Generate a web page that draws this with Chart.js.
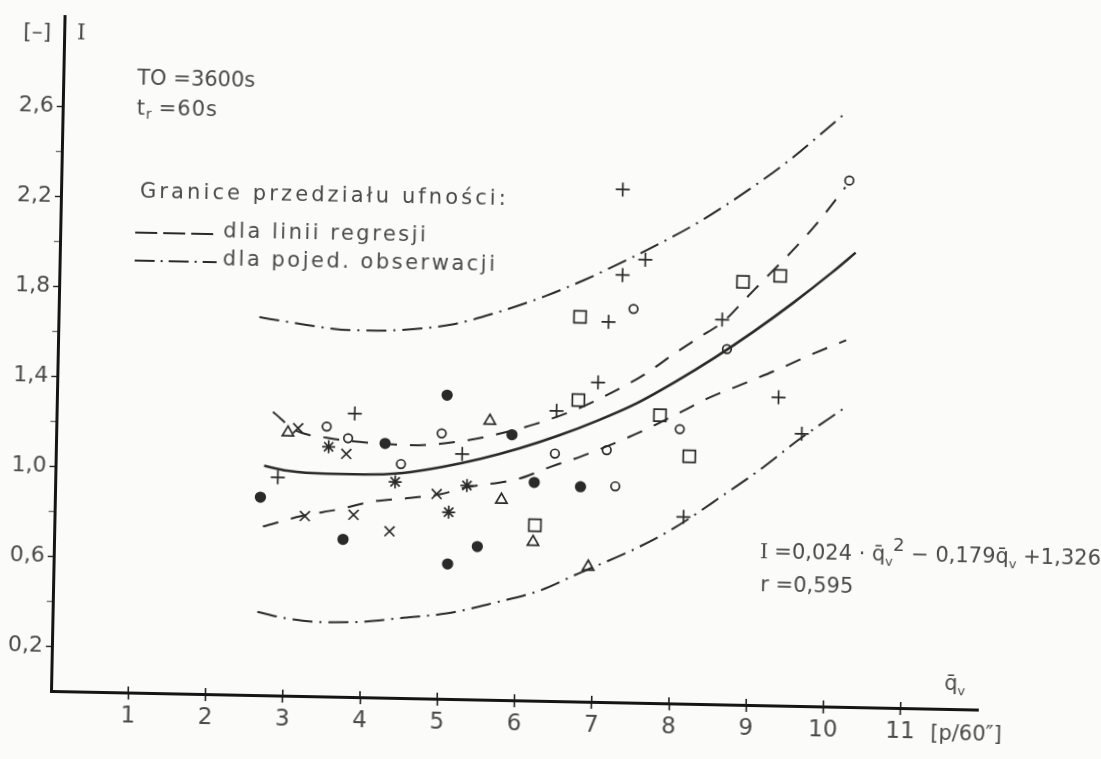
<!DOCTYPE html>
<html>
<head>
<meta charset="utf-8">
<title>I(q)</title>
<script src="https://cdn.jsdelivr.net/npm/chart.js@4.4.1/dist/chart.umd.min.js"></script>
<style>
  html, body { margin: 0; padding: 0; background: #fbfbf9; overflow: hidden; }
  /* the sheet sits slightly askew on the scanner */
  #sheet { width: 1101px; height: 759px; transform: rotate(1.15deg); transform-origin: 53px 691px; }
</style>
</head>
<body>
<div id="sheet"><canvas id="chart" width="1101" height="759"></canvas></div>
<script>
// regression line I = f(q)
const regQ = [2.7, 3.0, 3.5, 4.0, 4.5, 5.0, 5.5, 6.0, 6.5, 7.0, 7.5, 8.0, 8.5, 9.0, 9.5, 10.0, 10.3];
const regI = [1.02, 1.00, 0.99, 0.99, 1.00, 1.03, 1.07, 1.12, 1.18, 1.25, 1.33, 1.43, 1.54, 1.66, 1.79, 1.93, 2.02];

// confidence band of the regression line (dashed)
const bandUpQ = [2.8, 3.1, 3.5, 4.1, 4.6, 5.3, 5.7, 6.2, 6.8, 7.2, 7.6, 8.0, 8.3, 8.6, 8.9, 9.2, 9.5, 9.8, 10.15];
const bandUpI = [1.26, 1.18, 1.15, 1.13, 1.125, 1.15, 1.18, 1.23, 1.31, 1.38, 1.46, 1.56, 1.63, 1.70, 1.81, 1.92, 2.03, 2.15, 2.31];
const bandLoQ = [2.7, 3.2, 3.7, 4.1, 4.6, 5.0, 5.3, 6.0, 6.4, 6.8, 7.6, 8.1, 8.4, 8.9, 9.3, 9.7, 10.2];
const bandLoI = [0.75, 0.80, 0.835, 0.87, 0.89, 0.91, 0.94, 0.985, 1.04, 1.09, 1.21, 1.30, 1.355, 1.43, 1.49, 1.555, 1.63];

// limits for a single observation (dash-dot)
const obsUpQ = [2.6, 3.0, 3.8, 4.4, 5.1, 5.7, 6.3, 6.8, 7.3, 7.8, 8.3, 8.9, 9.4, 10.1];
const obsUpI = [1.68, 1.66, 1.63, 1.635, 1.665, 1.725, 1.80, 1.875, 1.96, 2.05, 2.15, 2.29, 2.42, 2.63];
const obsLoQ = [2.65, 3.0, 3.5, 4.0, 4.5, 5.1, 5.7, 6.3, 6.8, 7.5, 8.0, 8.65, 9.15, 9.6, 10.2];
const obsLoI = [0.37, 0.345, 0.33, 0.335, 0.355, 0.38, 0.43, 0.49, 0.57, 0.68, 0.775, 0.93, 1.055, 1.18, 1.33];

// measurements, one array pair per marker
const dotQ = [2.66, 3.74, 4.26, 5.05, 5.10, 5.48, 5.90, 6.20, 6.80];
const dotI = [0.88, 0.70, 1.13, 1.35, 0.60, 0.68, 1.18, 0.97, 0.955];
const ringQ = [3.50, 3.78, 4.47, 4.99, 6.46, 7.13, 7.25, 7.44, 8.07, 8.66, 10.20];
const ringI = [1.20, 1.15, 1.04, 1.18, 1.10, 1.12, 0.96, 1.75, 1.22, 1.58, 2.34];
const plusQ = [2.88, 3.86, 5.26, 6.47, 7.00, 7.12, 7.27, 7.29, 7.58, 8.14, 8.59, 9.34, 9.65];
const plusI = [0.97, 1.26, 1.09, 1.29, 1.42, 1.69, 2.28, 1.90, 1.97, 0.83, 1.71, 1.37, 1.21];
const crossQ = [3.13, 3.76, 3.24, 3.87, 4.94, 4.34];
const crossI = [1.19, 1.08, 0.80, 0.81, 0.91, 0.74];
const starQ = [3.53, 4.40, 5.33, 5.10];
const starI = [1.11, 0.96, 0.95, 0.83];
const triQ = [3.00, 5.61, 5.78, 6.20, 6.92];
const triI = [1.17, 1.24, 0.89, 0.705, 0.60];
const boxQ = [6.75, 6.75, 7.81, 8.20, 8.85, 9.33, 6.22];
const boxI = [1.71, 1.34, 1.28, 1.10, 1.88, 1.91, 0.78];

// axis ticks
const xLabels = [1, 2, 3, 4, 5, 6, 7, 8, 9, 10, 11];
const yLabels = [0.2, 0.6, 1.0, 1.4, 1.8, 2.2, 2.6];
const yMinor = [0.4, 0.8, 1.2, 1.6, 2.0, 2.4];

const FONT = "'DejaVu Sans', 'Liberation Sans', sans-serif";
const SERIF = "'DejaVu Serif', 'Liberation Serif', serif";
const INK = '#2a2a2a';
const TEXT = '#4a4a4a';

const xy = (qs, is) => qs.map((q, i) => ({ x: q, y: is[i] }));
const near = (v, list) => list.some(t => Math.abs(t - v) < 1e-6);

function curve(data, dash, width) {
  return {
    type: 'line', data, borderColor: INK, borderWidth: width, borderDash: dash,
    pointRadius: 0, fill: false, cubicInterpolationMode: 'monotone'
  };
}

function marks(data, style, radius, filled) {
  return {
    type: 'scatter', data, pointStyle: style, pointRadius: radius,
    pointBorderColor: INK, pointBorderWidth: 1.7,
    pointBackgroundColor: filled ? INK : 'rgba(0,0,0,0)'
  };
}

// draws a row of text pieces, each with its own size, font and vertical shift
function runs(ctx, x, y, parts, spacing) {
  let cx = x;
  ctx.letterSpacing = (spacing || 0) + 'px';
  parts.forEach(p => {
    ctx.font = (p.size || 21) + 'px ' + (p.font || FONT);
    ctx.fillText(p.t, cx, y + (p.dy || 0));
    cx += ctx.measureText(p.t).width + (p.gap || 0);
  });
  ctx.letterSpacing = '0px';
}

const paper = {
  id: 'paper',
  beforeDraw(chart) {
    const ctx = chart.ctx;
    ctx.save();
    ctx.fillStyle = '#fbfbf9';
    ctx.fillRect(0, 0, chart.width, chart.height);
    ctx.restore();
  }
};

const notes = {
  id: 'notes',
  afterDraw(chart) {
    const ctx = chart.ctx;
    const xs = chart.scales.x;
    const base = chart.chartArea.bottom;
    ctx.save();

    // x ticks also poke a little above the axis line
    ctx.strokeStyle = '#222';
    ctx.lineWidth = 1.6;
    xLabels.forEach(v => {
      const px = xs.getPixelForValue(v);
      ctx.beginPath(); ctx.moveTo(px, base - 6); ctx.lineTo(px, base); ctx.stroke();
    });

    ctx.fillStyle = TEXT;
    ctx.textBaseline = 'middle';
    ctx.textAlign = 'center';
    ctx.font = '22px ' + FONT;
    ctx.fillText('[–]', 24, 33);
    ctx.font = '22px ' + SERIF;
    ctx.fillText('I', 68, 33);

    ctx.textAlign = 'left';
    runs(ctx, 125, 78, [{ t: 'TO =3600s' }]);
    runs(ctx, 125, 108, [{ t: 't' }, { t: 'r', size: 14, dy: 5, gap: 6 }, { t: '=60s' }], 1);

    runs(ctx, 130, 191, [{ t: 'Granice przedziału ufności:' }], 3.1);
    runs(ctx, 214, 229, [{ t: 'dla linii regresji' }], 2.5);
    runs(ctx, 214, 257, [{ t: 'dla pojed. obserwacji' }], 2.5);

    ctx.strokeStyle = INK;
    ctx.lineWidth = 2.2;
    ctx.setLineDash([22, 6]);
    ctx.beginPath(); ctx.moveTo(126, 231); ctx.lineTo(208, 231); ctx.stroke();
    ctx.setLineDash([20, 6, 2, 6]);
    ctx.beginPath(); ctx.moveTo(126, 259); ctx.lineTo(208, 259); ctx.stroke();
    ctx.setLineDash([]);

    runs(ctx, 757, 539, [
      { t: 'I', font: SERIF, gap: 6 }, { t: '=0,024 · q\u0304' }, { t: 'v', size: 13, dy: 7 },
      { t: '2', size: 18, dy: -10 },
      { t: ' − 0,179q\u0304' }, { t: 'v', size: 13, dy: 7 }, { t: ' +1,326' }
    ]);
    runs(ctx, 758, 572, [{ t: 'r =0,595' }]);

    runs(ctx, 944, 667, [{ t: 'q\u0304' }, { t: 'v', size: 13, dy: 7 }]);
    runs(ctx, 931, 717, [{ t: '[p/60\u2033]' }]);
    ctx.restore();
  }
};

new Chart(document.getElementById('chart'), {
  type: 'scatter',
  data: {
    datasets: [
      curve(xy(obsUpQ, obsUpI), [20, 7, 2, 7], 2),
      curve(xy(obsLoQ, obsLoI), [20, 7, 2, 7], 2),
      curve(xy(bandUpQ, bandUpI), [16, 13], 2),
      curve(xy(bandLoQ, bandLoI), [16, 13], 2),
      curve(xy(regQ, regI), [], 2.6),
      marks(xy(dotQ, dotI), 'circle', 4.8, true),
      marks(xy(ringQ, ringI), 'circle', 4.3, false),
      marks(xy(plusQ, plusI), 'cross', 7, false),
      marks(xy(crossQ, crossI), 'crossRot', 7, false),
      marks(xy(starQ, starI), 'star', 6.5, false),
      marks(xy(triQ, triI), 'triangle', 6.5, false),
      marks(xy(boxQ, boxI), 'rect', 8.5, false)
    ]
  },
  options: {
    responsive: false,
    animation: false,
    events: [],
    layout: { padding: { top: 8, right: 123, bottom: 0, left: 0 } },
    plugins: { legend: { display: false }, tooltip: { enabled: false } },
    scales: {
      x: {
        type: 'linear', min: 0, max: 12,
        border: { display: true, color: '#151515', width: 3 },
        grid: {
          drawOnChartArea: false, tickLength: 7, tickWidth: 1.6,
          tickColor: c => near(c.tick.value, xLabels) ? '#222' : 'rgba(0,0,0,0)'
        },
        ticks: {
          stepSize: 1, padding: 3, color: TEXT, maxRotation: 0, autoSkip: false,
          font: { family: FONT, size: 23 },
          callback: v => near(v, xLabels) ? String(v) : ''
        },
        afterFit(scale) { scale.height = 68; }
      },
      y: {
        type: 'linear', min: 0, max: 3,
        border: { display: true, color: '#151515', width: 3 },
        grid: {
          drawOnChartArea: false, tickLength: 6, tickWidth: 1.4,
          tickColor: c => near(c.tick.value, yLabels) ? '#222' : (near(c.tick.value, yMinor) ? '#777' : 'rgba(0,0,0,0)')
        },
        ticks: {
          stepSize: 0.2, padding: 3, color: TEXT, autoSkip: false,
          font: { family: FONT, size: 22 },
          callback: v => near(v, yLabels) ? v.toFixed(1).replace('.', ',') : ''
        },
        afterFit(scale) { scale.width = 51; }
      }
    }
  },
  plugins: [paper, notes]
});
</script>
</body>
</html>
